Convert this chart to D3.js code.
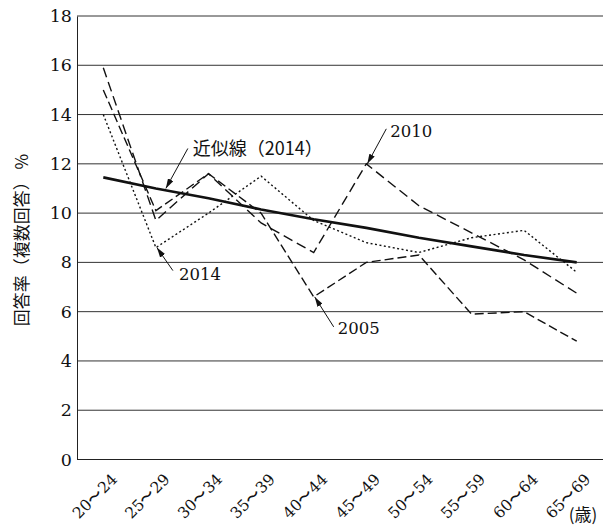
<!DOCTYPE html>
<html>
<head>
<meta charset="utf-8">
<script src="https://cdn.jsdelivr.net/npm/d3@7"></script>
<style>
  body { margin: 0; background: #fff; }
  svg { display: block; }
</style>
</head>
<body>
<svg id="chart" width="606" height="526"></svg>
<script>
// age groups + read-off values (%)
const categories = ["20〜24", "25〜29", "30〜34", "35〜39", "40〜44", "45〜49", "50〜54", "55〜59", "60〜64", "65〜69"];
const values2005 = [15.0, 10.1, 11.6, 10.0, 6.6, 8.0, 8.3, 5.9, 6.0, 4.8];
const values2010 = [15.9, 9.7, 11.6, 9.6, 8.4, 12.0, 10.3, 9.2, 8.1, 6.75];
const values2014 = [14.0, 8.6, 10.0, 11.5, 9.7, 8.8, 8.4, 9.0, 9.3, 7.6];
const trend2014 = [11.45, 11.0, 10.6, 10.15, 9.75, 9.4, 9.0, 8.65, 8.3, 8.0];
const yTicks = [0, 2, 4, 6, 8, 10, 12, 14, 16, 18];

const svg = d3.select("#chart");
const plotLeft = 77, plotRight = 603, plotTop = 16, plotBottom = 459.5;

const x = d3.scaleBand().domain(categories).range([plotLeft, plotRight]);
const y = d3.scaleLinear().domain([0, 18]).range([plotBottom, plotTop]);
const cx = i => x(categories[i]) + x.bandwidth() / 2;

const numFont = "DejaVu Serif, serif";
const jpFont = "Noto Sans CJK JP, sans-serif";

/* grid */
svg.append("g")
  .selectAll("line")
  .data(yTicks.filter(d => d > 0))
  .enter()
  .append("line")
  .attr("x1", plotLeft)
  .attr("x2", plotRight)
  .attr("y1", d => y(d))
  .attr("y2", d => y(d))
  .attr("stroke", "#333")
  .attr("stroke-width", 1);

/* axes */
const yAxis = svg.append("g")
  .attr("transform", `translate(${plotLeft},0)`)
  .call(d3.axisLeft(y).tickValues(yTicks).tickSize(0).tickPadding(5));
yAxis.select(".domain").attr("stroke", "#222");
yAxis.selectAll("text")
  .style("font-family", numFont)
  .style("font-size", "17.5px")
  .attr("fill", "#111");

svg.append("line")
  .attr("x1", plotLeft)
  .attr("x2", plotRight)
  .attr("y1", plotBottom)
  .attr("y2", plotBottom)
  .attr("stroke", "#222");

// rotated category labels (rotation on the wrapping g)
svg.append("g")
  .selectAll("g")
  .data(categories)
  .enter()
  .append("g")
  .attr("transform", (d, i) => `translate(${cx(i) + 11},${plotBottom + 17}) rotate(-45)`)
  .append("text")
  .attr("text-anchor", "end")
  .attr("dy", "0.35em")
  .style("font-family", numFont)
  .style("font-size", "15.5px")
  .attr("fill", "#111")
  .text(d => d);

svg.append("text")
  .attr("x", 583)
  .attr("y", 521)
  .attr("text-anchor", "middle")
  .style("font-family", jpFont)
  .style("font-size", "17px")
  .attr("fill", "#111")
  .text("(歳)");

svg.append("text")
  .attr("transform", "translate(22,240) rotate(-90)")
  .attr("text-anchor", "middle")
  .attr("dy", "0.35em")
  .style("font-family", jpFont)
  .style("font-size", "17px")
  .attr("fill", "#111")
  .text("回答率（複数回答） %");

/* series */
const line = d3.line().x((d, i) => cx(i)).y(d => y(d));

const series = [
  { name: "2005", values: values2005, dash: "9,4", width: 1.4 },
  { name: "2010", values: values2010, dash: "10,5", width: 1.4 },
  { name: "2014", values: values2014, dash: "2,2.5", width: 1.4 },
  { name: "trend", values: trend2014, dash: null, width: 2.6 }
];

svg.append("g")
  .selectAll("path")
  .data(series)
  .enter()
  .append("path")
  .attr("d", d => line(d.values))
  .attr("fill", "none")
  .attr("stroke", "#111")
  .attr("stroke-width", d => d.width)
  .attr("stroke-dasharray", d => d.dash);

/* annotations: arrow tip on a data point, tail offset in px */
svg.append("defs").append("marker")
  .attr("id", "head")
  .attr("viewBox", "0 0 10 6")
  .attr("refX", 10)
  .attr("refY", 3)
  .attr("markerWidth", 10)
  .attr("markerHeight", 6)
  .attr("markerUnits", "userSpaceOnUse")
  .attr("orient", "auto")
  .append("path")
  .attr("d", "M0,0L10,3L0,6Z")
  .attr("fill", "#111");

const notes = [
  { text: "近似線（2014）", i: 1.17, v: 11.0, dx: 23, dy: -40, tx: 5, ty: 0, jp: true },
  { text: "2010", i: 5, v: values2010[5], dx: 20, dy: -35, tx: 4, ty: 2, jp: false },
  { text: "2014", i: 1, v: values2014[1], dx: 17, dy: 23, tx: 6, ty: 4, jp: false },
  { text: "2005", i: 4, v: values2005[4], dx: 20, dy: 30, tx: 4, ty: 1, jp: false }
];

const nx = d => x(categories[0]) + x.bandwidth() * (d.i + 0.5);

const noteG = svg.append("g")
  .selectAll("g.note")
  .data(notes)
  .enter()
  .append("g")
  .attr("class", "note");

noteG.append("line")
  .attr("x1", d => nx(d) + d.dx)
  .attr("y1", d => y(d.v) + d.dy)
  .attr("x2", d => nx(d) + 1)
  .attr("y2", d => y(d.v))
  .attr("stroke", "#111")
  .attr("stroke-width", 1)
  .attr("marker-end", "url(#head)");

noteG.append("text")
  .attr("x", d => nx(d) + d.dx + d.tx)
  .attr("y", d => y(d.v) + d.dy + d.ty)
  .attr("dy", "0.35em")
  .style("font-family", d => d.jp ? jpFont : numFont)
  .style("font-size", d => d.jp ? "18px" : "16.5px")
  .attr("fill", "#111")
  .text(d => d.text);
</script>
</body>
</html>
